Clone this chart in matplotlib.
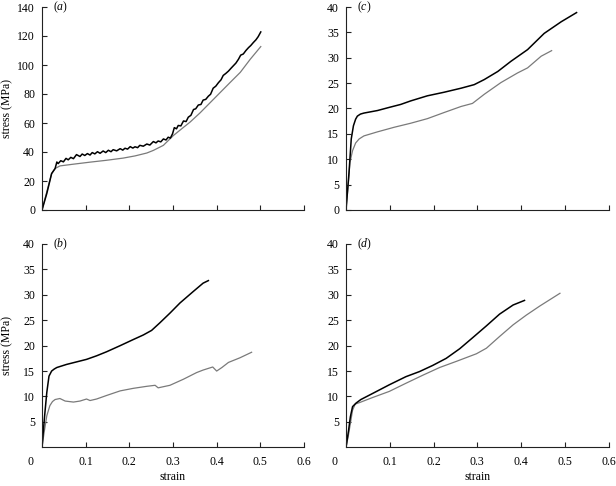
import matplotlib
matplotlib.use('Agg')
import matplotlib.pyplot as plt

plt.rcParams['font.family'] = ['Liberation Serif', 'DejaVu Serif']
plt.rcParams['mathtext.fontset'] = 'custom'
plt.rcParams['mathtext.it'] = 'Liberation Serif:italic'
plt.rcParams['mathtext.rm'] = 'Liberation Serif'

# panel (a)
a_black_x = [0, 0.011, 0.022, 0.030, 0.034, 0.037, 0.043, 0.049, 0.055, 0.060, 0.066, 0.072,
             0.079, 0.087, 0.092, 0.098, 0.104, 0.110, 0.115, 0.121, 0.127, 0.133, 0.140,
             0.146, 0.152, 0.158, 0.163, 0.171, 0.179, 0.185, 0.190, 0.196, 0.202, 0.208,
             0.213, 0.219, 0.224, 0.232, 0.240, 0.247, 0.255, 0.261, 0.266, 0.272, 0.278,
             0.284, 0.289, 0.294, 0.299, 0.303, 0.308, 0.312, 0.318, 0.324, 0.330, 0.335,
             0.341, 0.347, 0.352, 0.358, 0.364, 0.369, 0.375, 0.381, 0.386, 0.392, 0.398,
             0.404, 0.410, 0.415, 0.421, 0.427, 0.433, 0.438, 0.444, 0.450, 0.455, 0.461,
             0.467, 0.473, 0.478, 0.484, 0.490, 0.495, 0.501]
a_black_y = [0, 11.4, 25.1, 28.6, 33.1, 32.0, 34.0, 33.2, 35.6, 34.6, 36.3, 35.4,
             38.2, 36.9, 38.6, 37.6, 38.9, 37.9, 39.6, 38.7, 40.2, 39.1, 40.7,
             39.6, 41.2, 40.2, 41.6, 40.8, 42.3, 41.3, 42.6, 42.0, 43.7, 42.7,
             43.6, 43.0, 44.6, 44.0, 45.5, 44.8, 47.2, 46.3, 47.6, 47.0, 49.0,
             48.3, 50.2, 49.6, 52.6, 56.8, 56.0, 58.3, 58.0, 61.4, 61.0, 64.0,
             65.3, 69.3, 69.8, 72.4, 72.8, 75.8, 76.3, 78.5, 79.8, 84.0, 85.4,
             87.8, 89.8, 92.8, 94.2, 95.8, 97.8, 99.4, 101.3, 104.0, 106.8, 107.6,
             110.0, 112.0, 113.4, 115.5, 117.4, 119.5, 122.8]
a_gray_x = [0, 0.011, 0.022, 0.030, 0.041, 0.072, 0.110, 0.148, 0.186, 0.213, 0.240,
            0.255, 0.278, 0.301, 0.324, 0.339, 0.362, 0.385, 0.408, 0.431, 0.454,
            0.477, 0.501]
a_gray_y = [0, 12.6, 25.1, 28.6, 30.4, 31.6, 33.0, 34.3, 35.8, 37.3, 39.3,
            41.1, 44.6, 51.4, 57.0, 60.6, 67.0, 74.0, 81.0, 88.0, 94.9,
            104.0, 112.7]

# panel (b)
b_black_x = [0, 0.006, 0.011, 0.016, 0.022, 0.028, 0.034, 0.056, 0.079, 0.102, 0.125,
             0.148, 0.179, 0.209, 0.232, 0.251, 0.270, 0.293, 0.316, 0.347, 0.369, 0.381]
b_black_y = [0, 6.2, 10.8, 14.0, 15.0, 15.4, 15.7, 16.3, 16.8, 17.3, 18.0,
             18.8, 20.0, 21.2, 22.1, 23.0, 24.5, 26.4, 28.4, 30.7, 32.3, 32.8]
b_gray_x = [0, 0.005, 0.011, 0.018, 0.024, 0.030, 0.041, 0.053, 0.072, 0.087, 0.102,
            0.110, 0.125, 0.148, 0.179, 0.209, 0.240, 0.259, 0.266, 0.293, 0.324,
            0.354, 0.369, 0.391, 0.400, 0.412, 0.427, 0.453, 0.480]
b_gray_y = [0, 3.0, 6.2, 8.2, 9.0, 9.4, 9.6, 9.1, 8.9, 9.1, 9.5,
            9.2, 9.5, 10.2, 11.1, 11.6, 12.0, 12.2, 11.7, 12.2, 13.4,
            14.7, 15.2, 15.8, 15.0, 15.7, 16.7, 17.6, 18.7]

# panel (c)
c_black_x = [0, 0.007, 0.012, 0.017, 0.022, 0.026, 0.033, 0.041, 0.072, 0.098, 0.125,
             0.148, 0.186, 0.224, 0.263, 0.293, 0.316, 0.347, 0.377, 0.415, 0.453,
             0.492, 0.527]
c_black_y = [0, 7.5, 14.0, 16.6, 17.9, 18.5, 18.9, 19.1, 19.6, 20.2, 20.8,
             21.5, 22.5, 23.2, 24.0, 24.7, 25.7, 27.3, 29.3, 31.6, 34.8,
             37.1, 38.9]
c_gray_x = [0, 0.005, 0.009, 0.015, 0.022, 0.030, 0.041, 0.072, 0.110, 0.148, 0.186,
            0.224, 0.263, 0.289, 0.316, 0.354, 0.392, 0.415, 0.446, 0.470]
c_gray_y = [0, 4.9, 9.4, 11.7, 13.2, 14.0, 14.6, 15.4, 16.3, 17.1, 18.0,
            19.2, 20.4, 21.0, 22.8, 25.1, 27.0, 28.0, 30.3, 31.4]

# panel (d)
d_black_x = [0, 0.006, 0.010, 0.015, 0.023, 0.034, 0.061, 0.099, 0.137, 0.168, 0.198,
             0.229, 0.260, 0.290, 0.321, 0.351, 0.382, 0.408]
d_black_y = [0, 3.4, 6.0, 8.0, 8.7, 9.4, 10.6, 12.3, 13.9, 14.9, 16.1,
             17.5, 19.4, 21.6, 23.9, 26.2, 28.0, 28.9]
d_gray_x = [0, 0.005, 0.010, 0.015, 0.021, 0.031, 0.061, 0.099, 0.137, 0.176, 0.214,
            0.252, 0.298, 0.321, 0.351, 0.382, 0.412, 0.443, 0.489]
d_gray_y = [0, 2.1, 4.7, 7.3, 8.5, 8.8, 9.8, 11.0, 12.6, 14.2, 15.7,
            16.9, 18.4, 19.5, 21.8, 24.1, 26.0, 27.8, 30.3]

xticks = [0, 0.1, 0.2, 0.3, 0.4, 0.5, 0.6]
xtick_labels = ['', '0.1', '0.2', '0.3', '0.4', '0.5', '0.6']

fig = plt.figure(figsize=(6.16, 4.86), dpi=100)
W, H = 616, 486
boxes = {
    'a': (42, 7, 304, 210),
    'c': (346, 7, 608.5, 210),
    'b': (42, 244, 304, 447.3),
    'd': (346, 244, 608.5, 447.3),
}
panels = {
    'a': (a_black_x, a_black_y, a_gray_x, a_gray_y, 140, 20),
    'b': (b_black_x, b_black_y, b_gray_x, b_gray_y, 40, 5),
    'c': (c_black_x, c_black_y, c_gray_x, c_gray_y, 40, 5),
    'd': (d_black_x, d_black_y, d_gray_x, d_gray_y, 40, 5),
}

for key, (x0, y0, x1, y1) in boxes.items():
    ax = fig.add_axes([x0 / W, 1 - y1 / H, (x1 - x0) / W, (y1 - y0) / H])
    bx, by, gx, gy, ymax, ystep = panels[key]
    ax.plot(gx, gy, color='#7a7a7a', lw=0.9, solid_joinstyle='round')
    ax.plot(bx, by, color='black', lw=1.1, solid_joinstyle='round')
    ax.set_xlim(0, 0.6)
    ax.set_ylim(0, ymax)
    for s in ['top', 'right']:
        ax.spines[s].set_visible(False)
    for s in ['left', 'bottom']:
        ax.spines[s].set_linewidth(0.8)
        ax.spines[s].set_color('#222222')
    ax.tick_params(direction='in', length=3.5, width=0.8, labelsize=8.5, color='#222222')
    ax.tick_params(axis='y', pad=5)
    ax.tick_params(axis='x', pad=6)
    ax.set_xticks(xticks)
    bottom = key in ('b', 'd')
    if bottom:
        ax.set_xticklabels(xtick_labels)
        ax.set_yticks(list(range(ystep, ymax + 1, ystep)))
        ax.text(-0.042, -0.045, '0', transform=ax.transAxes, ha='center', va='top',
                fontsize=8.5)
        ax.set_xlabel('strain', fontsize=8.5)
        ax.xaxis.set_label_coords(0.5, -0.118)
    else:
        ax.set_xticklabels([])
        ax.set_yticks(list(range(0, ymax + 1, ystep)))
    if key in ('a', 'b'):
        ax.set_ylabel('stress (MPa)', fontsize=8.5)
        ax.yaxis.set_label_coords(-0.108, 0.5)
    ax.text(0.042, 1.0, '($\\mathit{' + key + '}$)', transform=ax.transAxes,
            ha='left', va='center', fontsize=8.5)

fig.savefig('out.png', dpi=100)
